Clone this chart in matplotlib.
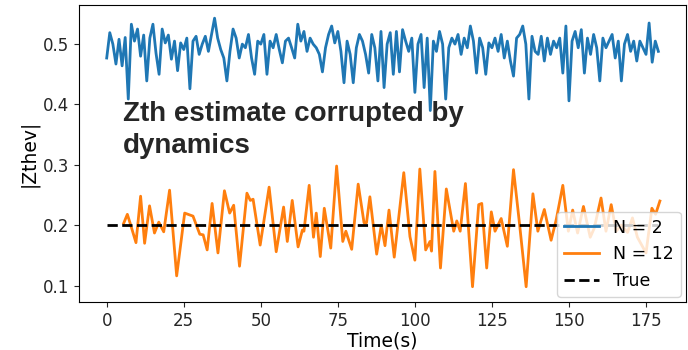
import matplotlib.pyplot as plt

# --- Data ---
# N = 2 estimate, one sample per second
t_n2 = list(range(180))
z_n2 = [
    0.477, 0.519, 0.500, 0.467, 0.508, 0.464, 0.511, 0.409, 0.533, 0.505,
    0.525, 0.480, 0.515, 0.439, 0.510, 0.533, 0.485, 0.450, 0.525, 0.502,
    0.515, 0.475, 0.505, 0.456, 0.502, 0.491, 0.510, 0.426, 0.505, 0.513,
    0.483, 0.500, 0.513, 0.488, 0.516, 0.543, 0.510, 0.491, 0.477, 0.439,
    0.488, 0.525, 0.510, 0.477, 0.500, 0.494, 0.516, 0.477, 0.450, 0.505,
    0.500, 0.516, 0.450, 0.505, 0.494, 0.516, 0.491, 0.469, 0.505, 0.510,
    0.494, 0.477, 0.533, 0.505, 0.521, 0.488, 0.510, 0.500, 0.494, 0.483,
    0.454, 0.494, 0.516, 0.530, 0.502, 0.521, 0.488, 0.436, 0.505, 0.483,
    0.436, 0.494, 0.516, 0.505, 0.483, 0.452, 0.516, 0.494, 0.439, 0.521,
    0.428, 0.500, 0.519, 0.450, 0.521, 0.454, 0.524, 0.505, 0.488, 0.510,
    0.420, 0.500, 0.516, 0.428, 0.510, 0.390, 0.505, 0.488, 0.521, 0.500,
    0.409, 0.494, 0.510, 0.500, 0.516, 0.483, 0.510, 0.494, 0.530, 0.505,
    0.452, 0.510, 0.494, 0.450, 0.502, 0.494, 0.510, 0.488, 0.516, 0.477,
    0.505, 0.472, 0.447, 0.510, 0.516, 0.530, 0.500, 0.409, 0.513, 0.488,
    0.483, 0.513, 0.472, 0.510, 0.483, 0.505, 0.494, 0.510, 0.452, 0.530,
    0.406, 0.505, 0.521, 0.494, 0.524, 0.452, 0.510, 0.483, 0.516, 0.494,
    0.439, 0.510, 0.494, 0.505, 0.516, 0.477, 0.505, 0.439, 0.500, 0.516,
    0.488, 0.505, 0.472, 0.505, 0.494, 0.483, 0.535, 0.470, 0.505, 0.488,
]

# N = 12 estimate (turning points)
t_n12 = [
    5.5, 6.7, 7.8, 9.5, 11.0, 12.3, 13.9, 15.5, 16.9, 18.5,
    20.4, 22.7, 25.3, 28.0, 30.2, 31.3, 32.6, 34.2, 36.1, 38.2,
    39.9, 41.2, 43.1, 45.5, 46.6, 47.5, 49.8, 52.7, 55.0, 57.4,
    58.6, 60.2, 62.1, 63.5, 64.0, 65.7, 67.1, 68.0, 69.3, 70.6,
    72.7, 74.6, 76.6, 77.6, 79.5, 81.6, 83.5, 84.3, 85.4, 87.6,
    89.1, 90.3, 91.6, 93.3, 96.4, 98.4, 100.0, 101.6, 103.5, 104.9,
    105.4, 106.5, 108.3, 110.2, 112.6, 113.6, 114.7, 116.4, 118.7, 120.7,
    121.7, 123.3, 124.8, 126.0, 128.0, 130.0, 132.0, 134.0, 136.1, 138.3,
    139.9, 142.0, 144.2, 145.9, 148.0, 149.8, 151.2, 152.8, 154.7, 156.9,
    158.2, 160.4, 162.0, 163.7, 165.3, 167.0, 169.0, 170.6, 172.2, 175.0,
    176.9, 178.1, 179.5,
]
z_n12 = [
    0.203, 0.218, 0.200, 0.171, 0.248, 0.170, 0.232, 0.187, 0.205, 0.189,
    0.258, 0.116, 0.220, 0.215, 0.185, 0.184, 0.159, 0.236, 0.154, 0.257,
    0.220, 0.233, 0.132, 0.253, 0.241, 0.243, 0.167, 0.263, 0.156, 0.230,
    0.173, 0.241, 0.164, 0.192, 0.190, 0.266, 0.180, 0.220, 0.148, 0.228,
    0.162, 0.298, 0.173, 0.190, 0.160, 0.268, 0.204, 0.204, 0.247, 0.152,
    0.200, 0.166, 0.225, 0.147, 0.287, 0.181, 0.142, 0.293, 0.159, 0.173,
    0.157, 0.289, 0.129, 0.260, 0.190, 0.207, 0.190, 0.269, 0.098, 0.234,
    0.236, 0.129, 0.222, 0.190, 0.211, 0.165, 0.292, 0.200, 0.098, 0.252,
    0.190, 0.226, 0.175, 0.210, 0.266, 0.190, 0.225, 0.187, 0.231, 0.180,
    0.195, 0.245, 0.190, 0.234, 0.190, 0.200, 0.188, 0.212, 0.180, 0.154,
    0.228, 0.218, 0.240,
]

# true value
t_true = [0, 179]
z_true = [0.2, 0.2]

# --- Plotting ---
fig = plt.figure(figsize=(6.88, 3.5), dpi=100)
ax = fig.add_axes([0.115, 0.137, 0.882, 0.849])

ax.plot(t_n2, z_n2, color='#1f77b4', lw=2, label='N = 2')
ax.plot(t_n12, z_n12, color='#ff7f0e', lw=2, label='N = 12')
ax.plot(t_true, z_true, 'k--', lw=2, label='True')

ax.text(5.2, 0.405, 'Zth estimate corrupted by\ndynamics', fontsize=20,
        fontweight='bold', family='Liberation Sans', color='#262626',
        va='top', ha='left', linespacing=1.3)

ax.set_xlim(-8.95, 187.95)
ax.set_ylim(0.0726, 0.565)
ax.set_xticks([0, 25, 50, 75, 100, 125, 150, 175])
ax.set_yticks([0.1, 0.2, 0.3, 0.4, 0.5])
ax.tick_params(labelsize=12, colors='#262626')
ax.set_xlabel('Time(s)', fontsize=13.5, labelpad=1)
ax.set_ylabel('|Zthev|', fontsize=13.5, labelpad=3)

ax.legend(loc='lower right', fontsize=12.5, borderaxespad=0.3)

fig.savefig('out.png')
